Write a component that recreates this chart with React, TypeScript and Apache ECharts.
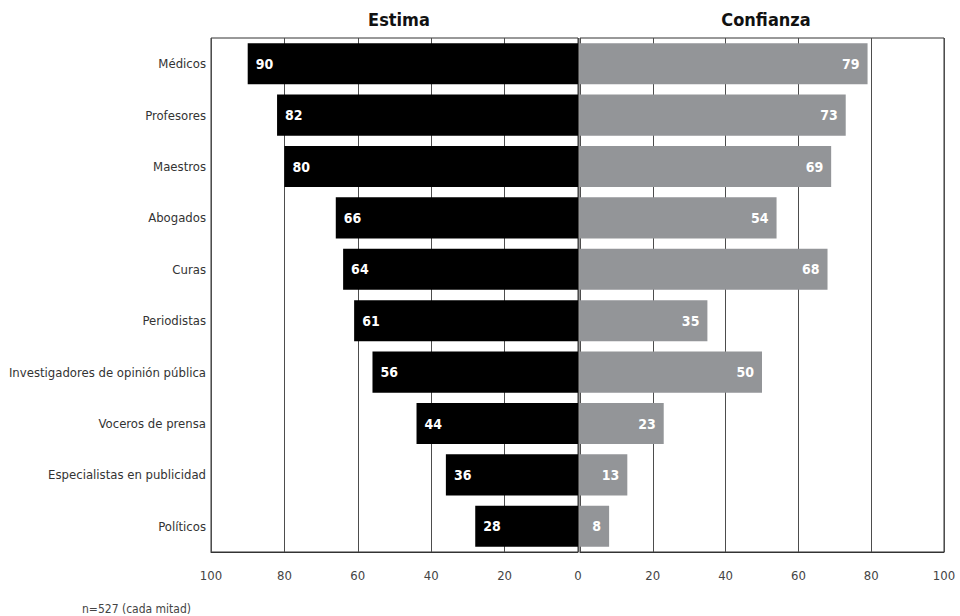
import React, { useEffect, useRef } from "react";
import * as echarts from "echarts";

const categories = [
  "Médicos",
  "Profesores",
  "Maestros",
  "Abogados",
  "Curas",
  "Periodistas",
  "Investigadores de opinión pública",
  "Voceros de prensa",
  "Especialistas en publicidad",
  "Políticos",
];
const estima = [90, 82, 80, 66, 64, 61, 56, 44, 36, 28];
const confianza = [79, 73, 69, 54, 68, 35, 50, 23, 13, 8];
const xTicks = { min: 0, max: 100, interval: 20 };

const FONT = "'Liberation Sans Narrow', 'DejaVu Sans Condensed', 'Open Sans', sans-serif";

export default function App() {
  const ref = useRef<HTMLDivElement>(null);
  useEffect(() => {
    if (!ref.current) return;
    const chart = echarts.init(ref.current, null, { renderer: "svg" });
    const gridLine = { show: true, lineStyle: { color: "#4d4d4d", width: 1 } };
    chart.setOption({
      animation: false,
      backgroundColor: "#ffffff",
      textStyle: { fontFamily: FONT },
      title: [
        {
          text: "Estima",
          left: 394,
          top: 5,
          textAlign: "center",
          textStyle: { fontFamily: FONT, fontSize: 18, fontWeight: "bold", color: "#111" },
        },
        {
          text: "Confianza",
          left: 761,
          top: 5,
          textAlign: "center",
          textStyle: { fontFamily: FONT, fontSize: 18, fontWeight: "bold", color: "#111" },
        },
        {
          text: "n=527 (cada mitad)",
          left: 77,
          top: 598,
          textStyle: { fontFamily: FONT, fontSize: 12, fontWeight: "normal", color: "#444" },
        },
      ],
      grid: [
        {
          left: 211, top: 38, width: 367, height: 514,
          show: true, borderColor: "#333", borderWidth: 1,
          outerBoundsMode: "none", containLabel: false,
        },
        {
          left: 580, top: 38, width: 364, height: 514,
          show: true, borderColor: "#333", borderWidth: 1,
          outerBoundsMode: "none", containLabel: false,
        },
      ],
      xAxis: [
        {
          gridIndex: 0,
          type: "value",
          inverse: true,
          min: xTicks.min,
          max: xTicks.max,
          interval: xTicks.interval,
          axisLine: { show: true, lineStyle: { color: "#333" } },
          axisTick: { show: false },
          splitLine: gridLine,
          axisLabel: { fontFamily: FONT, fontSize: 13, color: "#444", margin: 17 },
        },
        {
          gridIndex: 1,
          type: "value",
          min: xTicks.min,
          max: xTicks.max,
          interval: xTicks.interval,
          axisLine: { show: true, lineStyle: { color: "#333" } },
          axisTick: { show: false },
          splitLine: gridLine,
          axisLabel: { fontFamily: FONT, fontSize: 13, color: "#444", margin: 17, showMinLabel: false },
        },
      ],
      yAxis: [
        {
          gridIndex: 0,
          type: "category",
          data: categories,
          inverse: true,
          axisLine: { show: false },
          axisTick: { show: false },
          axisLabel: { fontFamily: FONT, fontSize: 13, color: "#333", margin: 5 },
        },
        {
          gridIndex: 1,
          type: "category",
          data: categories,
          inverse: true,
          axisLine: { show: false },
          axisTick: { show: false },
          axisLabel: { show: false },
        },
      ],
      series: [
        {
          type: "bar",
          name: "Estima",
          xAxisIndex: 0,
          yAxisIndex: 0,
          data: estima,
          barWidth: "80%",
          itemStyle: { color: "#000000" },
          label: {
            show: true,
            position: "insideLeft",
            distance: 8,
            color: "#ffffff",
            fontFamily: FONT,
            fontSize: 14,
            fontWeight: "bold",
          },
        },
        {
          type: "bar",
          name: "Confianza",
          xAxisIndex: 1,
          yAxisIndex: 1,
          data: confianza,
          barWidth: "80%",
          itemStyle: { color: "#939598" },
          label: {
            show: true,
            position: "insideRight",
            distance: 8,
            color: "#ffffff",
            fontFamily: FONT,
            fontSize: 14,
            fontWeight: "bold",
          },
        },
      ],
    });
    return () => chart.dispose();
  }, []);
  return <div ref={ref} style={{ width: 960, height: 616, position: "absolute", left: 0, top: 0 }} />;
}
